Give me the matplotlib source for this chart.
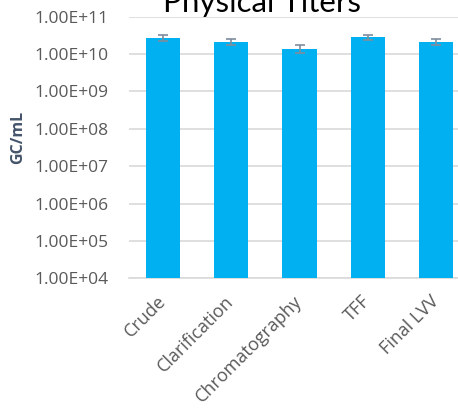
import matplotlib
matplotlib.use("Agg")
import matplotlib.pyplot as plt
from matplotlib.ticker import FixedLocator, FuncFormatter

categories = ["Crude", "Clarification", "Chromatography", "TFF", "Final LVV"]
titers = [2.7e10, 2.15e10, 1.4e10, 2.8e10, 2.15e10]
errors = [4.5e9, 3.8e9, 3.0e9, 4.0e9, 3.5e9]
y_ticks = [1e4, 1e5, 1e6, 1e7, 1e8, 1e9, 1e10, 1e11]

plt.rcParams["font.family"] = ["Open Sans", "DejaVu Sans"]

fig = plt.figure(figsize=(4.58, 4.08), dpi=100)
ax = fig.add_axes([129 / 458, 129.7 / 408, 341 / 458, 261.6 / 408])

x = list(range(len(categories)))
ax.bar(x, titers, width=0.5, color="#00B0F0", zorder=3,
       yerr=errors, ecolor="#7F8C9E", capsize=3.6,
       error_kw=dict(elinewidth=1.2, capthick=1.2, zorder=4))

ax.set_yscale("log")
ax.set_ylim(1e4, 1e11)
ax.set_xlim(-0.5, len(categories) - 0.5)
ax.yaxis.set_major_locator(FixedLocator(y_ticks))
ax.yaxis.set_minor_locator(FixedLocator([]))
ax.yaxis.set_major_formatter(FuncFormatter(lambda v, p: f"{v:.2E}"))

ax.grid(axis="y", color="#D9D9D9", linewidth=1.2, zorder=0)
for s in ["top", "right", "left"]:
    ax.spines[s].set_visible(False)
ax.spines["bottom"].set_color("#D9D9D9")
ax.spines["bottom"].set_linewidth(1.2)
ax.tick_params(axis="y", length=0, colors="#595959", labelsize=12.5, pad=15)
ax.tick_params(axis="x", length=0, colors="#595959", labelsize=13, pad=14.5)

ax.set_xticks(x)
ax.set_xticklabels(categories, rotation=45, ha="right", va="center",
                   rotation_mode="anchor")

# axis title placed in figure pixels
fig.text(18 / 458, 1 - 137.5 / 408, "GC/mL", rotation=90, ha="center", va="center",
         fontsize=11.5, fontweight="bold", color="#44546A")

fig.text(262 / 458, 1 - 11.7 / 408, "Physical Titers", ha="center", va="baseline",
         fontsize=22.5, color="#000000", family=["Lato", "DejaVu Sans"])

fig.savefig("out.png", dpi=100)
